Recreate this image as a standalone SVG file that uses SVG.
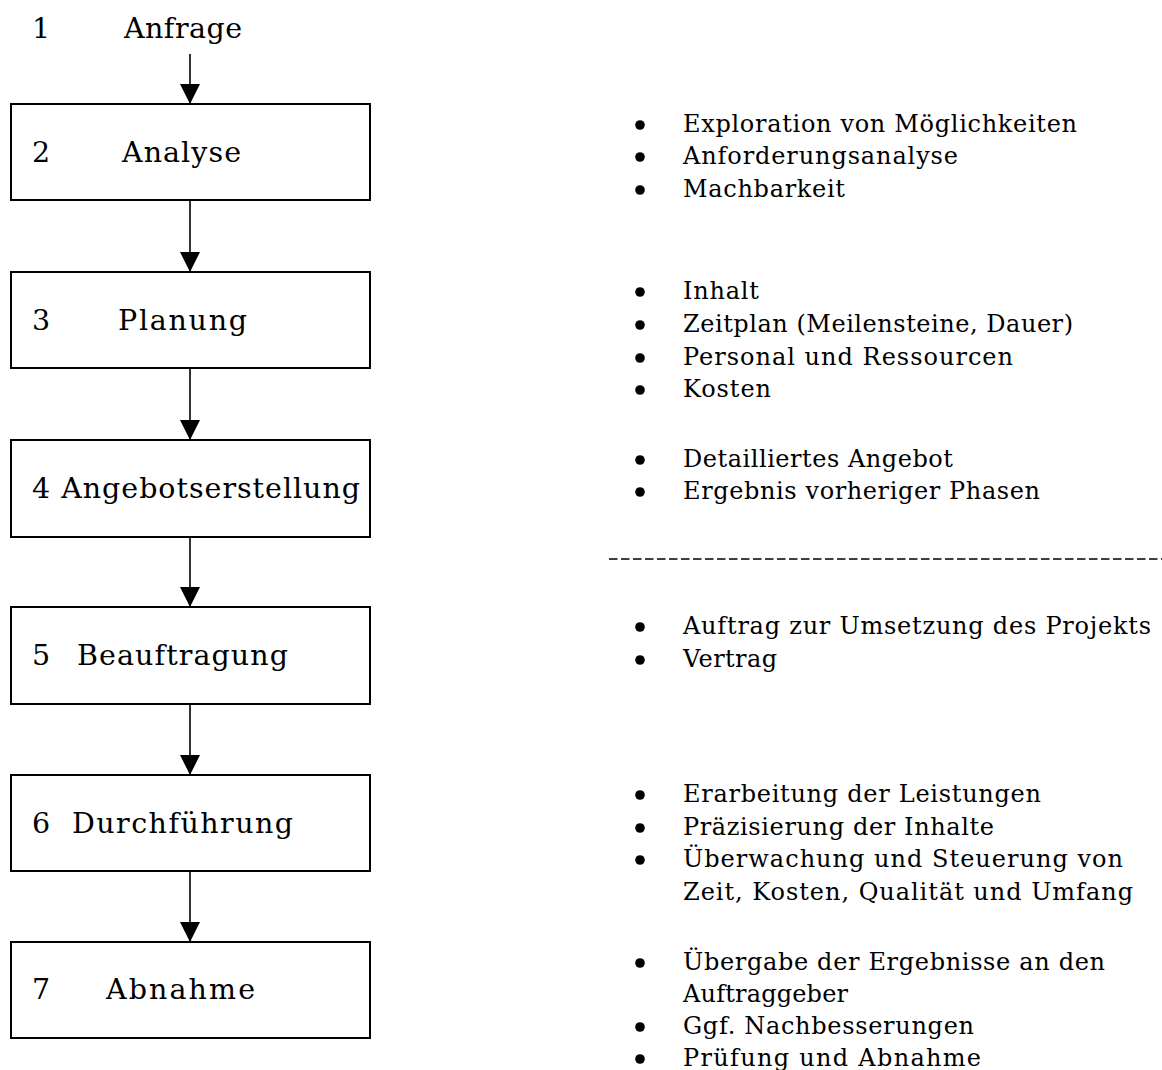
<svg xmlns="http://www.w3.org/2000/svg" width="1162" height="1070" viewBox="0 0 1162 1070">
<style>
.box{fill:#fff;stroke:#000;stroke-width:2}
.lbl{font-family:"DejaVu Serif","Liberation Serif",serif;font-size:28.5px;fill:#000}
.itm{font-family:"DejaVu Serif","Liberation Serif",serif;font-size:24px;fill:#000}
.con{stroke:#000;stroke-width:1.6;fill:none}
.dash{stroke:#000;stroke-width:1.7;stroke-dasharray:8.5 3.5;fill:none}
</style>
<defs>
<marker id="ah" markerWidth="20" markerHeight="20" viewBox="0 0 20 20" refX="20" refY="10" orient="auto" markerUnits="userSpaceOnUse">
<path d="M0,0 L20,10 L0,20 Z" fill="#000"/>
</marker>
<circle id="b" r="4.8" fill="#000"/>
</defs>
<rect width="1162" height="1070" fill="#fff"/>
<g id="n1"><text class="lbl" x="32" y="38">1</text><text class="lbl" x="124" y="38" textLength="118">Anfrage</text></g>
<g id="n2"><rect class="box" x="11" y="104" width="359" height="96"/><text class="lbl" x="32" y="162">2</text><text class="lbl" x="122" y="162" textLength="119">Analyse</text></g>
<g id="n3"><rect class="box" x="11" y="272" width="359" height="96"/><text class="lbl" x="32" y="330">3</text><text class="lbl" x="118" y="330" textLength="129">Planung</text></g>
<g id="n4"><rect class="box" x="11" y="440" width="359" height="97"/><text class="lbl" x="32" y="498" textLength="328">4 Angebotserstellung</text></g>
<g id="n5"><rect class="box" x="11" y="607" width="359" height="97"/><text class="lbl" x="32" y="665">5</text><text class="lbl" x="77" y="665" textLength="211">Beauftragung</text></g>
<g id="n6"><rect class="box" x="11" y="775" width="359" height="96"/><text class="lbl" x="32" y="833">6</text><text class="lbl" x="72" y="833" textLength="221">Durchführung</text></g>
<g id="n7"><rect class="box" x="11" y="942" width="359" height="96"/><text class="lbl" x="32" y="999">7</text><text class="lbl" x="106" y="999" textLength="149">Abnahme</text></g>
<g id="connectors">
<line class="con" x1="190" y1="54" x2="190" y2="104" marker-end="url(#ah)"/>
<line class="con" x1="190" y1="200" x2="190" y2="272" marker-end="url(#ah)"/>
<line class="con" x1="190" y1="368" x2="190" y2="440" marker-end="url(#ah)"/>
<line class="con" x1="190" y1="537" x2="190" y2="607" marker-end="url(#ah)"/>
<line class="con" x1="190" y1="704" x2="190" y2="775" marker-end="url(#ah)"/>
<line class="con" x1="190" y1="871" x2="190" y2="942" marker-end="url(#ah)"/>
</g>
<line class="dash" x1="609" y1="559" x2="1162" y2="559"/>
<g id="list2">
<use href="#b" x="640" y="125"/><text class="itm" x="683" y="132" textLength="394">Exploration von Möglichkeiten</text>
<use href="#b" x="640" y="157"/><text class="itm" x="683" y="164" textLength="275">Anforderungsanalyse</text>
<use href="#b" x="640" y="190"/><text class="itm" x="683" y="197" textLength="162">Machbarkeit</text>
</g>
<g id="list3">
<use href="#b" x="640" y="292"/><text class="itm" x="683" y="299" textLength="76">Inhalt</text>
<use href="#b" x="640" y="325"/><text class="itm" x="683" y="332" textLength="390">Zeitplan (Meilensteine, Dauer)</text>
<use href="#b" x="640" y="358"/><text class="itm" x="683" y="365" textLength="330">Personal und Ressourcen</text>
<use href="#b" x="640" y="390"/><text class="itm" x="683" y="397" textLength="88">Kosten</text>
</g>
<g id="list4">
<use href="#b" x="640" y="460"/><text class="itm" x="683" y="467" textLength="270">Detailliertes Angebot</text>
<use href="#b" x="640" y="492"/><text class="itm" x="683" y="499" textLength="357">Ergebnis vorheriger Phasen</text>
</g>
<g id="list5">
<use href="#b" x="640" y="627"/><text class="itm" x="683" y="634" textLength="468">Auftrag zur Umsetzung des Projekts</text>
<use href="#b" x="640" y="660"/><text class="itm" x="683" y="667" textLength="94">Vertrag</text>
</g>
<g id="list6">
<use href="#b" x="640" y="795"/><text class="itm" x="683" y="802" textLength="358">Erarbeitung der Leistungen</text>
<use href="#b" x="640" y="828"/><text class="itm" x="683" y="835" textLength="311">Präzisierung der Inhalte</text>
<use href="#b" x="640" y="860"/><text class="itm" x="683" y="867" textLength="440">Überwachung und Steuerung von</text>
<text class="itm" x="683" y="900" textLength="450">Zeit, Kosten, Qualität und Umfang</text>
</g>
<g id="list7">
<use href="#b" x="640" y="963"/><text class="itm" x="683" y="970" textLength="422">Übergabe der Ergebnisse an den</text>
<text class="itm" x="683" y="1002" textLength="165">Auftraggeber</text>
<use href="#b" x="640" y="1027"/><text class="itm" x="683" y="1034" textLength="291">Ggf. Nachbesserungen</text>
<use href="#b" x="640" y="1059"/><text class="itm" x="683" y="1066" textLength="298">Prüfung und Abnahme</text>
</g>
</svg>
